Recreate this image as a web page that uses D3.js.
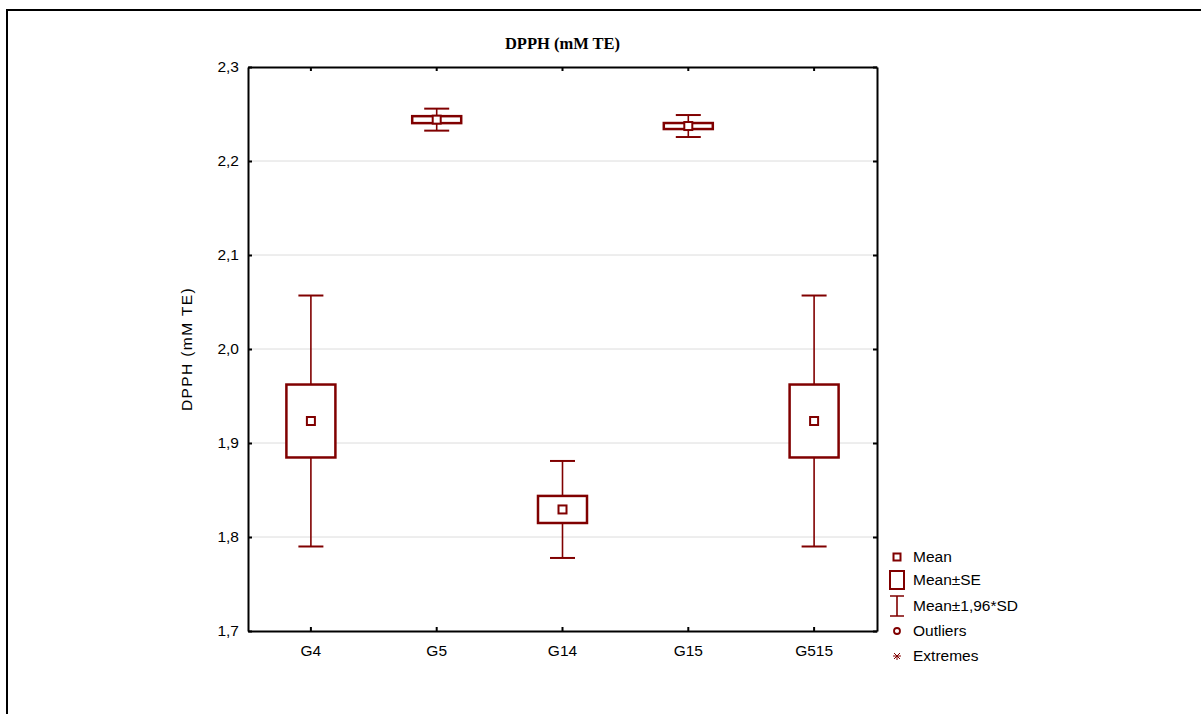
<!DOCTYPE html>
<html>
<head>
<meta charset="utf-8">
<script src="https://cdn.jsdelivr.net/npm/d3@7"></script>
<style>
  html, body { margin: 0; padding: 0; background: #fff; }
  svg { display: block; }
</style>
</head>
<body>
<svg id="chart" width="1201" height="714"></svg>
<script>
// Groups and summary statistics for DPPH (mM TE)
const groups = ["G4", "G5", "G14", "G15", "G515"];
const means = [1.9234, 2.2440, 1.8293, 2.2372, 1.9234];
const stdErrors = [0.0388, 0.0037, 0.0144, 0.0032, 0.0388];
const sd196 = [0.1335, 0.0117, 0.0516, 0.0117, 0.1335];
const yTicks = [1.7, 1.8, 1.9, 2.0, 2.1, 2.2, 2.3];
const legendItems = ["Mean", "Mean±SE", "Mean±1,96*SD", "Outliers", "Extremes"];

(function () {
const color = "#800000";
const svg = d3.select("#chart");
const W = 1201, H = 714;
const m = { left: 248, right: 877, top: 67, bottom: 631 };

// outer frame (left and top edges)
svg.append("path")
  .attr("d", `M7,${H} V10 H${W}`)
  .attr("fill", "none").attr("stroke", "#000").attr("stroke-width", 2);

const x = d3.scaleBand().domain(groups).range([m.left, m.right]);
const y = d3.scaleLinear().domain([1.7, 2.3]).range([m.bottom, m.top]);
const fmt = d => d3.format(".1f")(d).replace(".", ",");

// gridlines
svg.append("g").selectAll("line")
  .data(yTicks.filter(t => t > 1.7 && t < 2.3))
  .join("line")
  .attr("x1", m.left).attr("x2", m.right)
  .attr("y1", d => y(d)).attr("y2", d => y(d))
  .attr("stroke", "#dcdcdc").attr("stroke-width", 1);

// axes with inward ticks
const font = "'Liberation Sans', Arial, sans-serif";
const fs = "15.5px";
const axLeft = svg.append("g").attr("transform", `translate(${m.left},0)`)
  .call(d3.axisLeft(y).tickValues(yTicks).tickFormat(fmt).tickSizeInner(-4).tickSizeOuter(0).tickPadding(9));
const axRight = svg.append("g").attr("transform", `translate(${m.right},0)`)
  .call(d3.axisRight(y).tickValues(yTicks).tickFormat("").tickSizeInner(-4).tickSizeOuter(0));
const axBottom = svg.append("g").attr("transform", `translate(0,${m.bottom})`)
  .call(d3.axisBottom(x).tickSizeInner(-4).tickSizeOuter(0).tickPadding(14));
const axTop = svg.append("g").attr("transform", `translate(0,${m.top})`)
  .call(d3.axisTop(x).tickFormat("").tickSizeInner(-4).tickSizeOuter(0));
[axLeft, axRight, axBottom, axTop].forEach(g => {
  g.select(".domain").attr("stroke", "#000").attr("stroke-width", 2);
  g.selectAll(".tick line").attr("stroke", "#000").attr("stroke-width", 2);
  g.selectAll("text").attr("fill", "#000").style("font-family", font).style("font-size", fs);
});

// title and axis label
svg.append("text").attr("x", (m.left + m.right) / 2).attr("y", 49)
  .attr("text-anchor", "middle")
  .style("font-family", "'Liberation Serif', 'Times New Roman', serif")
  .style("font-weight", "bold").style("font-size", "16.5px")
  .text("DPPH (mM TE)");
svg.append("text")
  .attr("transform", `translate(192,${(m.top + m.bottom) / 2}) rotate(-90)`)
  .attr("text-anchor", "middle")
  .style("font-family", font).style("font-size", fs).style("letter-spacing", "1.4px")
  .text("DPPH (mM TE)");

// box-whisker marks
const boxW = 49, capW = 25, meanS = 8;
const g = svg.append("g").selectAll("g").data(groups).join("g")
  .attr("transform", d => `translate(${x(d) + x.bandwidth() / 2},0)`);
g.append("line")
  .attr("y1", (d, i) => y(means[i] + sd196[i])).attr("y2", (d, i) => y(means[i] - sd196[i]))
  .attr("stroke", color).attr("stroke-width", 1.6);
[1, -1].forEach(s => g.append("line")
  .attr("x1", -capW / 2).attr("x2", capW / 2)
  .attr("y1", (d, i) => y(means[i] + s * sd196[i])).attr("y2", (d, i) => y(means[i] + s * sd196[i]))
  .attr("stroke", color).attr("stroke-width", 2));
g.append("rect")
  .attr("x", -boxW / 2).attr("width", boxW)
  .attr("y", (d, i) => y(means[i] + stdErrors[i]))
  .attr("height", (d, i) => y(means[i] - stdErrors[i]) - y(means[i] + stdErrors[i]))
  .attr("fill", "#fff").attr("stroke", color).attr("stroke-width", 2.5);
g.append("rect")
  .attr("x", -meanS / 2).attr("width", meanS)
  .attr("y", (d, i) => y(means[i]) - meanS / 2).attr("height", meanS)
  .attr("fill", "#fff").attr("stroke", color).attr("stroke-width", 2);

// legend
const lx = 897, ly = [557, 580, 606, 631, 656];
const lg = svg.append("g");
lg.append("rect").attr("x", lx - 3.5).attr("y", ly[0] - 3.5).attr("width", 7).attr("height", 7)
  .attr("fill", "#fff").attr("stroke", color).attr("stroke-width", 2);
lg.append("rect").attr("x", lx - 7).attr("y", ly[1] - 9).attr("width", 14).attr("height", 18)
  .attr("fill", "#fff").attr("stroke", color).attr("stroke-width", 2);
lg.append("path").attr("d", `M${lx - 7},${ly[2] - 10} H${lx + 7} M${lx},${ly[2] - 10} V${ly[2] + 10} M${lx - 7},${ly[2] + 10} H${lx + 7}`)
  .attr("stroke", color).attr("stroke-width", 1.6).attr("fill", "none");
lg.append("circle").attr("cx", lx).attr("cy", ly[3]).attr("r", 3)
  .attr("fill", "#fff").attr("stroke", color).attr("stroke-width", 1.8);
lg.append("path").attr("d", `M${lx - 4},${ly[4]} H${lx + 4} M${lx - 3},${ly[4] - 3} L${lx + 3},${ly[4] + 3} M${lx - 3},${ly[4] + 3} L${lx + 3},${ly[4] - 3} M${lx},${ly[4]} V${ly[4] + 4}`)
  .attr("stroke", color).attr("stroke-width", 1).attr("fill", "none");
lg.selectAll("text").data(legendItems).join("text")
  .attr("x", 913).attr("y", (d, i) => ly[i]).attr("dy", "0.35em")
  .style("font-family", font).style("font-size", fs)
  .text(d => d);
})();
</script>
</body>
</html>
